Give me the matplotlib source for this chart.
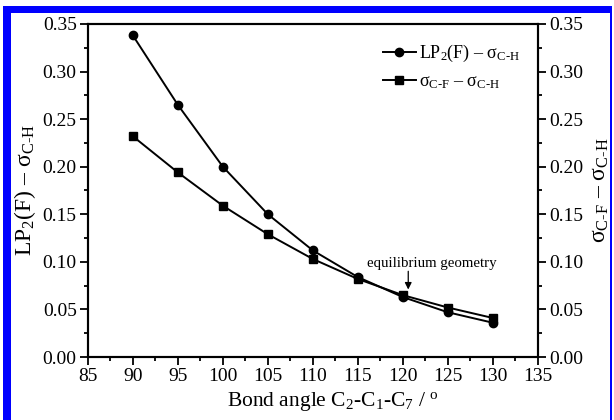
import matplotlib
matplotlib.use("Agg")
import matplotlib.pyplot as plt
from matplotlib.patches import Rectangle
from matplotlib.ticker import MultipleLocator, FormatStrFormatter

plt.rcParams['font.family'] = ['Liberation Serif', 'DejaVu Serif']
plt.rcParams['mathtext.fontset'] = 'custom'
plt.rcParams['mathtext.rm'] = 'Liberation Serif'
plt.rcParams['mathtext.it'] = 'Liberation Serif:italic'
plt.rcParams['mathtext.bf'] = 'Liberation Serif:bold'

angles = [90, 95, 100, 105, 110, 115, 120, 125, 130]
lp2_minus_sch = [0.338, 0.265, 0.200, 0.150, 0.112, 0.084, 0.063, 0.047, 0.036]
scf_minus_sch = [0.232, 0.194, 0.159, 0.129, 0.103, 0.082, 0.065, 0.052, 0.041]

label1 = r'$\mathrm{LP_2(F)}$ – $\mathrm{σ_{\text{C-H}}}$'
label2 = r'$\mathrm{σ_{\text{C-F}}}$ – $\mathrm{σ_{\text{C-H}}}$'

fig = plt.figure(figsize=(6.14, 4.2), dpi=100)
ax = fig.add_axes([0.143, 0.15, 0.733, 0.793])

ax.plot(angles, lp2_minus_sch, '-o', color='black', lw=1.4, ms=6, label=label1)
ax.plot(angles, scf_minus_sch, '-s', color='black', lw=1.4, ms=5.5, label=label2)

ax.set_xlim(85, 135)
ax.set_ylim(0, 0.35)
ax.xaxis.set_major_locator(MultipleLocator(5))
ax.xaxis.set_minor_locator(MultipleLocator(2.5))
ax.yaxis.set_major_locator(MultipleLocator(0.05))
ax.yaxis.set_minor_locator(MultipleLocator(0.025))
ax.yaxis.set_major_formatter(FormatStrFormatter('%.2f'))
for s in ax.spines.values():
    s.set_linewidth(1.5)
ax.tick_params(which='both', direction='out', width=1.3, labelsize=14, top=False, pad=2)
ax.tick_params(which='major', length=6)
ax.tick_params(which='minor', length=3)

ax2 = ax.twinx()
ax2.set_ylim(0, 0.35)
ax2.yaxis.set_major_locator(MultipleLocator(0.05))
ax2.yaxis.set_minor_locator(MultipleLocator(0.025))
ax2.yaxis.set_major_formatter(FormatStrFormatter('%.2f'))
ax2.tick_params(which='both', direction='out', width=1.3, labelsize=14, pad=2)
ax2.tick_params(which='major', length=6)
ax2.tick_params(which='minor', length=3)
for s in ax2.spines.values():
    s.set_linewidth(1.5)

ax.set_xlabel(r'Bond angle C$_2$-C$_1$-C$_7$ / $^{\mathrm{o}}$', fontsize=15.5)
ax.xaxis.set_label_coords(0.545, -0.1)
ax.set_ylabel(label1, fontsize=17, labelpad=3)
ax2.set_ylabel(label2, fontsize=17, labelpad=5)

ax.legend(loc='upper left', bbox_to_anchor=(0.656, 0.943), frameon=False,
          fontsize=13, handlelength=1.8, handletextpad=0.2, borderpad=0,
          borderaxespad=0, labelspacing=0.5)

ax.annotate('', xy=(120.6, 0.068), xytext=(120.6, 0.093),
            arrowprops=dict(arrowstyle='-|>', color='black', lw=0.9,
                            mutation_scale=10))
ax.text(123.2, 0.0985, 'equilibrium geometry', fontsize=10.7, ha='center', va='center')

blue = '#0000ff'
W, H = 614.0, 420.0
fig.add_artist(Rectangle((3 / W, 0), 8 / W, 1 - 6 / H, transform=fig.transFigure, color=blue, lw=0))
fig.add_artist(Rectangle((3 / W, 1 - 13 / H), 609 / W, 7 / H, transform=fig.transFigure, color=blue, lw=0))
fig.add_artist(Rectangle((610 / W, 0), 2 / W, 1 - 6 / H, transform=fig.transFigure, color=blue, lw=0))

fig.savefig('out.png', dpi=100)
